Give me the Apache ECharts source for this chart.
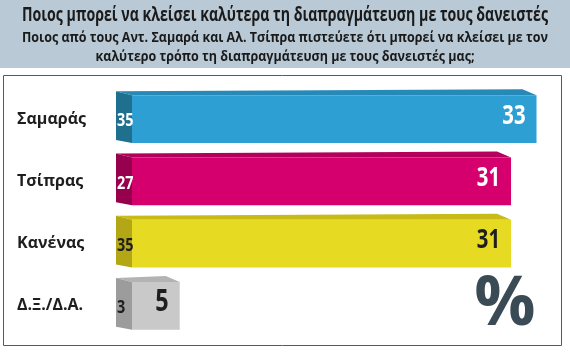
<!DOCTYPE html>
<html><head><meta charset="utf-8">
<script src="https://cdn.jsdelivr.net/npm/echarts@6/dist/echarts.min.js"></script>
<style>html,body{margin:0;padding:0;background:#fff}#c{width:570px;height:355px}</style>
</head><body><div id="c"></div>
<script>
const categories = ['Σαμαράς', 'Τσίπρας', 'Κανένας', 'Δ.Ξ./Δ.Α.'];
const currentValues = [33, 31, 31, 5];
const previousValues = [35, 27, 35, 3];
const titleText = 'Ποιος μπορεί να κλείσει καλύτερα τη διαπραγμάτευση με τους δανειστές';
const subtitleLine1 = 'Ποιος από τους Αντ. Σαμαρά και Αλ. Τσίπρα πιστεύετε ότι μπορεί να κλείσει με τον';
const subtitleLine2 = 'καλύτερο τρόπο τη διαπραγμάτευση με τους δανειστές μας;';
const percentSign = '%';

const FONT = '"Open Sans", "Noto Sans", sans-serif';
const palette = [
  {front:'#2d9fd3', side:'#1f6f8f', top:'#2789b8', txt:'#ffffff', prev:'#ffffff'},
  {front:'#d5006d', side:'#96004d', top:'#b3005c', txt:'#ffffff', prev:'#ffffff'},
  {front:'#e7da22', side:'#b4a716', top:'#c8bb18', txt:'#1e1e1e', prev:'#1e1e1e'},
  {front:'#c9c9c9', side:'#9c9c9c', top:'#b3b3b3', txt:'#1e1e1e', prev:'#1e1e1e'}
];

const mctx = document.createElement('canvas').getContext('2d');
function fitScale(text, font, width){ mctx.font = font; return width / mctx.measureText(text).width; }
const titleFont = 'bold 19px ' + FONT;
const subFont = 'bold 15px ' + FONT;
const titleScale = fitScale(titleText, titleFont, 526);
const subScale = fitScale(subtitleLine1, subFont, 526);

const data = categories.map((c, i) => [currentValues[i], i, previousValues[i]]);

const chart = echarts.init(document.getElementById('c'), null, {renderer:'canvas'});
chart.setOption({
  animation: false,
  backgroundColor: '#ffffff',
  grid: {left: 116, right: 8, top: 88, bottom: 18},
  xAxis: {type:'value', min:0, max:35, show:false},
  yAxis: {
    type:'category', data: categories, inverse:true,
    axisLine:{show:false}, axisTick:{show:false},
    axisLabel:{align:'left', margin:99, fontFamily:FONT, fontWeight:'bold', fontSize:16, color:'#1e1e1e'}
  },
  graphic: [
    {type:'rect', left:0, top:0, shape:{width:570, height:68}, style:{fill:'#b9cad6'}, z:-10},
    {type:'rect', shape:{x:3.5, y:75.5, width:558, height:270}, style:{fill:'#ffffff', stroke:'#5a5a5a', lineWidth:1}, z:-10},
    {type:'text', x:285, y:16, scaleX:titleScale, style:{text:titleText, font:titleFont, fill:'#1a1a1a', align:'center', verticalAlign:'middle'}},
    {type:'text', x:285, y:38, scaleX:subScale, style:{text:subtitleLine1, font:subFont, fill:'#1a1a1a', align:'center', verticalAlign:'middle'}},
    {type:'text', x:285, y:57, scaleX:subScale, style:{text:subtitleLine2, font:subFont, fill:'#1a1a1a', align:'center', verticalAlign:'middle'}},
    {type:'text', x:505, y:306, style:{text:percentSign, font:'bold 68px "Open Sans", sans-serif', fill:'#3b4b55', align:'center', verticalAlign:'middle'}}
  ],
  series: [{
    type:'custom',
    data: data,
    encode: {x:0, y:1},
    renderItem: function(params, api){
      const i = api.value(1);
      const v = api.value(0);
      const prev = api.value(2);
      const p0 = api.coord([0, i]);
      const p1 = api.coord([v, i]);
      const band = api.size([0, 1])[1];
      const h = band * 0.77;
      const yc = p0[1];
      const yt = yc - h/2, yb = yc + h/2;
      const x0 = p0[0], x1 = p1[0];
      const s = 16;
      const col = palette[i];
      const big = v < 10 ? 30 : 26;
      return {type:'group', children:[
        {type:'polygon', shape:{points:[[x0, yt-4],[x1-14, yt-6],[x1, yt],[x0+s, yt]]}, style:{fill:col.top}},
        {type:'polygon', shape:{points:[[x0, yt-4],[x0+s, yt],[x0+s, yb],[x0, yb-3]]}, style:{fill:col.side}},
        {type:'rect', shape:{x:x0+s, y:yt, width:x1-x0-s, height:h}, style:{fill:col.front}},
        {type:'text', x:x0+1, y:yc+2, scaleX:0.8, style:{text:String(prev), font:'bold 18px '+FONT, fill:col.prev, align:'left', verticalAlign:'middle'}},
        {type:'text', x:x1-11, y:yc-3, scaleX:0.78, style:{text:String(v), font:'bold '+big+'px '+FONT, fill:col.txt, align:'right', verticalAlign:'middle'}}
      ]};
    }
  }]
});
</script></body></html>
